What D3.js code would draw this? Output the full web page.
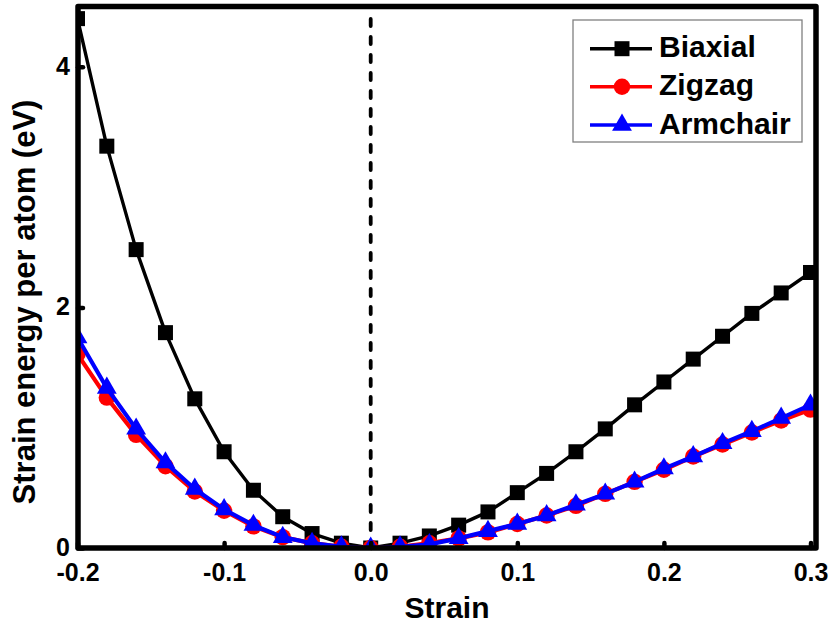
<!DOCTYPE html>
<html>
<head>
<meta charset="utf-8">
<script src="https://cdn.jsdelivr.net/npm/d3@7"></script>
<style>
  html, body { margin: 0; padding: 0; background: #fff; }
  svg { display: block; }
  text { font-family: "Liberation Sans", Arial, sans-serif; font-weight: bold; fill: #000; }
</style>
</head>
<body>
<svg id="chart" width="832" height="628"></svg>
<script>
// Strain steps and the strain energy per atom (eV) for each loading mode
const strain = [-0.20, -0.18, -0.16, -0.14, -0.12, -0.10, -0.08, -0.06, -0.04, -0.02, 0.00,
                0.02, 0.04, 0.06, 0.08, 0.10, 0.12, 0.14, 0.16, 0.18, 0.20, 0.22, 0.24, 0.26, 0.28, 0.30];
const biaxial  = [4.40, 3.34, 2.48, 1.79, 1.24, 0.80, 0.48, 0.26, 0.12, 0.04, 0.00,
                  0.04, 0.10, 0.19, 0.30, 0.46, 0.62, 0.80, 0.99, 1.19, 1.38, 1.57, 1.76, 1.95, 2.12, 2.29];
const zigzag   = [1.61, 1.25, 0.94, 0.68, 0.47, 0.31, 0.18, 0.09, 0.04, 0.01, 0.00,
                  0.01, 0.04, 0.08, 0.13, 0.20, 0.27, 0.35, 0.45, 0.55, 0.65, 0.76, 0.86, 0.96, 1.06, 1.15];
const armchair = [1.75, 1.33, 0.99, 0.71, 0.49, 0.32, 0.19, 0.09, 0.04, 0.01, 0.00,
                  0.01, 0.03, 0.08, 0.14, 0.20, 0.27, 0.36, 0.45, 0.55, 0.66, 0.76, 0.87, 0.97, 1.08, 1.19];

const seriesNames = ["Biaxial", "Zigzag", "Armchair"];
const xTicks = [-0.2, -0.1, 0.0, 0.1, 0.2, 0.3];
const yTicks = [0, 2, 4];

const svg = d3.select("#chart");

// plot frame
const frame = { left: 78, right: 816, top: 6.6, bottom: 548 };

const x = d3.scaleLinear().domain([-0.2, 0.3]).range([77.5, 810.5]);
const y = d3.scaleLinear().domain([0, 4.5]).range([548, 6.6]);

const series = [
  { name: seriesNames[0], values: biaxial,  color: "#000000", width: 3.4, shape: "square" },
  { name: seriesNames[1], values: zigzag,   color: "#ff0000", width: 4.2, shape: "circle" },
  { name: seriesNames[2], values: armchair, color: "#0000ff", width: 4.2, shape: "triangle" }
];

function drawMarker(g, shape, color) {
  if (shape === "square") {
    g.append("rect").attr("x", -7.5).attr("y", -7.5).attr("width", 15).attr("height", 15).attr("fill", color);
  } else if (shape === "circle") {
    g.append("circle").attr("r", 8.2).attr("fill", color);
  } else {
    g.append("path").attr("d", d3.symbol(d3.symbolTriangle, 170)()).attr("fill", color);
  }
}

svg.append("defs").append("clipPath").attr("id", "plot-clip")
  .append("rect")
  .attr("x", frame.left).attr("y", frame.top)
  .attr("width", frame.right - frame.left).attr("height", frame.bottom - frame.top);

// vertical dashed reference at zero strain
svg.append("line")
  .attr("x1", x(0)).attr("x2", x(0))
  .attr("y1", frame.bottom).attr("y2", frame.top + 4)
  .attr("stroke", "#000").attr("stroke-width", 3.8)
  .attr("stroke-dasharray", "7,11").attr("stroke-linecap", "round");

const plot = svg.append("g").attr("clip-path", "url(#plot-clip)");
const line = d3.line().x((d, i) => x(strain[i])).y(d => y(d));

series.forEach(s => {
  const g = plot.append("g");
  g.append("path").datum(s.values)
    .attr("d", line).attr("fill", "none")
    .attr("stroke", s.color).attr("stroke-width", s.width).attr("stroke-linejoin", "round");
  g.selectAll("g.pt").data(s.values).enter().append("g")
    .attr("class", "pt")
    .attr("transform", (d, i) => `translate(${x(strain[i])},${y(d)})`)
    .each(function () { drawMarker(d3.select(this), s.shape, s.color); });
});

// axes with short inward ticks
const xAxis = svg.append("g").attr("transform", `translate(0,${frame.bottom})`)
  .call(d3.axisBottom(x).tickValues(xTicks).tickFormat(d => d.toFixed(1))
    .tickSizeInner(-5).tickSizeOuter(0).tickPadding(14));
const yAxis = svg.append("g").attr("transform", `translate(${frame.left},0)`)
  .call(d3.axisLeft(y).tickValues(yTicks).tickFormat(d3.format("d"))
    .tickSizeInner(-5).tickSizeOuter(0).tickPadding(8));

[xAxis, yAxis].forEach(a => {
  a.select(".domain").remove();
  a.selectAll(".tick line").attr("stroke", "#000").attr("stroke-width", 4.5).attr("stroke-linecap", "round");
  a.selectAll(".tick text").style("font-size", "25px").attr("fill", "#000");
});
xAxis.selectAll(".tick text").attr("dy", null).attr("y", 33);
yAxis.selectAll(".tick text").attr("dy", "0.3em");

// frame on top
svg.append("rect")
  .attr("x", frame.left).attr("y", frame.top)
  .attr("width", frame.right - frame.left).attr("height", frame.bottom - frame.top)
  .attr("fill", "none").attr("stroke", "#000").attr("stroke-width", 5.5).attr("stroke-linejoin", "round");

// axis titles
svg.append("text")
  .attr("x", (frame.left + frame.right) / 2).attr("y", 618)
  .attr("text-anchor", "middle").style("font-size", "30px")
  .text("Strain");
svg.append("text")
  .attr("transform", "translate(35,302) rotate(-90)")
  .attr("text-anchor", "middle").style("font-size", "31px")
  .text("Strain energy per atom (eV)");

// legend
const legend = svg.append("g");
legend.append("rect")
  .attr("x", 573).attr("y", 20).attr("width", 229).attr("height", 122)
  .attr("fill", "#fff").attr("stroke", "#808080").attr("stroke-width", 1.3);
const rowY = [48.7, 86.7, 125];
series.forEach((s, i) => {
  const row = legend.append("g").attr("transform", `translate(0,${rowY[i]})`);
  row.append("line").attr("x1", 590).attr("x2", 652).attr("y1", 0).attr("y2", 0)
    .attr("stroke", s.color).attr("stroke-width", 3.6);
  const m = row.append("g").attr("transform", "translate(622,0)");
  drawMarker(m, s.shape, s.color);
  row.append("text").attr("x", 659).attr("y", 8.5).style("font-size", "30px").text(s.name);
});
</script>
</body>
</html>
